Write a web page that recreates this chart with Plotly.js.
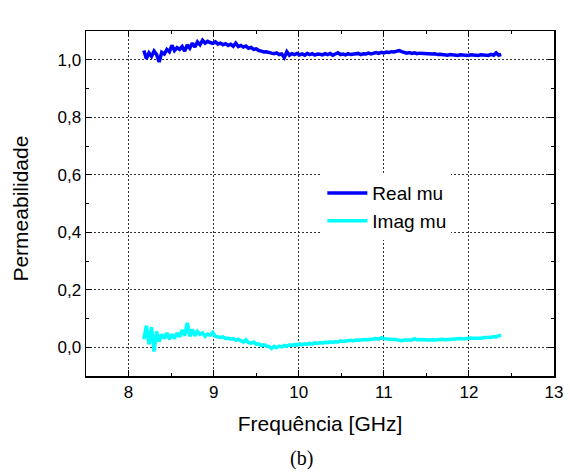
<!DOCTYPE html>
<html>
<head>
<meta charset="utf-8">
<script src="https://cdn.plot.ly/plotly-3.0.1.min.js"></script>
<style>html,body{margin:0;padding:0;background:#fff;}#chart{width:570px;height:472px;}</style>
</head>
<body>
<div id="chart"></div>
<script>
const freqGHz = [
  8.18,8.21,8.24,8.27,8.30,8.33,8.36,8.39,8.42,8.45,
  8.48,8.51,8.54,8.57,8.60,8.63,8.66,8.69,8.72,8.75,
  8.78,8.81,8.84,8.87,8.90,8.93,8.96,8.99,9.02,9.05,
  9.08,9.11,9.14,9.17,9.20,9.23,9.26,9.29,9.32,9.35,
  9.38,9.41,9.44,9.47,9.50,9.53,9.56,9.59,9.62,9.65,
  9.68,9.71,9.74,9.77,9.80,9.83,9.86,9.89,9.92,9.95,
  9.98,10.01,10.04,10.07,10.10,10.13,10.16,10.19,10.22,10.25,
  10.28,10.31,10.34,10.37,10.40,10.43,10.46,10.49,10.52,10.55,
  10.58,10.61,10.64,10.67,10.70,10.73,10.76,10.79,10.82,10.85,
  10.88,10.91,10.94,10.97,11.00,11.03,11.06,11.09,11.12,11.15,
  11.18,11.21,11.24,11.27,11.30,11.33,11.36,11.39,11.42,11.45,
  11.48,11.51,11.54,11.57,11.60,11.63,11.66,11.69,11.72,11.75,
  11.78,11.81,11.84,11.87,11.90,11.93,11.96,11.99,12.02,12.05,
  12.08,12.11,12.14,12.17,12.20,12.23,12.26,12.29,12.32,12.35,
  12.38
];
const realMu = [
  1.032,1.004,1.024,1.012,1.030,1.018,0.992,1.026,1.020,1.036,
  1.028,1.050,1.032,1.042,1.036,1.046,1.030,1.052,1.040,1.058,
  1.044,1.062,1.052,1.068,1.058,1.064,1.060,1.057,1.062,1.055,
  1.058,1.052,1.056,1.050,1.054,1.047,1.058,1.046,1.050,1.044,
  1.048,1.040,1.043,1.036,1.038,1.032,1.030,1.027,1.028,1.024,
  1.023,1.021,1.024,1.018,1.020,1.008,1.028,1.016,1.021,1.018,
  1.022,1.017,1.020,1.016,1.022,1.018,1.021,1.016,1.020,1.019,
  1.017,1.021,1.018,1.022,1.016,1.020,1.024,1.018,1.020,1.017,
  1.021,1.018,1.020,1.019,1.022,1.018,1.021,1.020,1.023,1.020,
  1.022,1.025,1.022,1.026,1.024,1.027,1.025,1.028,1.027,1.030,
  1.032,1.028,1.026,1.023,1.025,1.022,1.024,1.021,1.023,1.022,
  1.024,1.021,1.022,1.020,1.021,1.018,1.019,1.017,1.018,1.016,
  1.018,1.016,1.017,1.015,1.017,1.016,1.018,1.015,1.017,1.016,
  1.018,1.015,1.017,1.016,1.018,1.015,1.019,1.016,1.024,1.016,
  1.019
];
const imagMu = [
  0.028,0.075,0.010,0.070,-0.015,0.055,0.020,0.045,0.030,0.050,
  0.028,0.045,0.030,0.050,0.036,0.060,0.040,0.085,0.038,0.062,
  0.040,0.055,0.045,0.050,0.038,0.046,0.042,0.052,0.038,0.036,
  0.034,0.036,0.030,0.032,0.028,0.030,0.024,0.028,0.022,0.018,
  0.026,0.016,0.014,0.018,0.010,0.012,0.006,0.008,0.004,0.003,
  -0.004,0.003,-0.002,0.004,0.001,0.006,0.003,0.008,0.006,0.010,
  0.007,0.012,0.008,0.012,0.010,0.014,0.011,0.015,0.013,0.016,
  0.014,0.018,0.016,0.019,0.017,0.020,0.018,0.022,0.020,0.022,
  0.021,0.024,0.022,0.025,0.024,0.026,0.025,0.027,0.026,0.028,
  0.027,0.030,0.028,0.033,0.030,0.028,0.029,0.027,0.028,0.026,
  0.024,0.023,0.025,0.024,0.026,0.025,0.030,0.026,0.027,0.025,
  0.026,0.025,0.027,0.026,0.025,0.027,0.026,0.028,0.026,0.027,
  0.028,0.027,0.029,0.028,0.030,0.029,0.031,0.030,0.032,0.031,
  0.030,0.032,0.031,0.034,0.033,0.035,0.034,0.037,0.036,0.040,
  0.041
];
const seriesNames = ["Real mu", "Imag mu"];
const xTickVals = [8, 9, 10, 11, 12, 13];
const yTickVals = [0, 0.2, 0.4, 0.6, 0.8, 1.0];
const xTitle = "Frequência [GHz]";
const yTitle = "Permeabilidade";
const panelLabel = "(b)";

const font = "'Liberation Sans', Arial, sans-serif";
const traces = [
  {x: freqGHz, y: realMu, name: seriesNames[0], type: "scatter", mode: "lines",
   line: {color: "#0000ff", width: 3.5}},
  {x: freqGHz, y: imagMu, name: seriesNames[1], type: "scatter", mode: "lines",
   line: {color: "#00ffff", width: 3.5}}
];
const axisCommon = {
  showline: true, linecolor: "#000", linewidth: 1.5, mirror: "allticks",
  ticks: "inside", ticklen: 6, tickwidth: 1, tickcolor: "#000",
  showgrid: true, gridcolor: "#333", gridwidth: 1, griddash: "2px,2px",
  zeroline: false, tickfont: {family: font, size: 17, color: "#000"}
};
const layout = {
  width: 570, height: 472,
  margin: {l: 86, r: 16, t: 31, b: 96},
  paper_bgcolor: "#fff", plot_bgcolor: "#fff",
  separators: ",.",
  showlegend: true,
  legend: {x: 0.505, y: 0.585, xanchor: "left", yanchor: "top", bgcolor: "#fff",
           borderwidth: 0, font: {family: font, size: 19, color: "#000"},
           tracegroupgap: 0, itemwidth: 40},
  xaxis: Object.assign({}, axisCommon, {
    range: [7.5, 13], tickvals: xTickVals,
    minor: {dtick: 0.5, ticks: "inside", ticklen: 3, tickcolor: "#000", showgrid: false},
    title: {text: xTitle, font: {family: font, size: 21, color: "#000"}, standoff: 15}
  }),
  yaxis: Object.assign({}, axisCommon, {
    range: [-0.1, 1.1], tickvals: yTickVals, tickformat: ".1f",
    minor: {dtick: 0.1, ticks: "inside", ticklen: 3, tickcolor: "#000", showgrid: false}
  }),
  annotations: [
    {text: yTitle, xref: "paper", yref: "paper", x: -0.142, y: 0.484, textangle: -90,
     xanchor: "center", yanchor: "middle", showarrow: false,
     font: {family: font, size: 21, color: "#000"}},
    {text: panelLabel, xref: "paper", yref: "paper", x: 0.4615, y: -0.24,
     xanchor: "center", yanchor: "middle", showarrow: false,
     font: {family: "'Liberation Serif', 'Times New Roman', serif", size: 20, color: "#000"}}
  ]
};
Plotly.newPlot("chart", traces, layout, {displayModeBar: false, staticPlot: true});
</script>
</body>
</html>
